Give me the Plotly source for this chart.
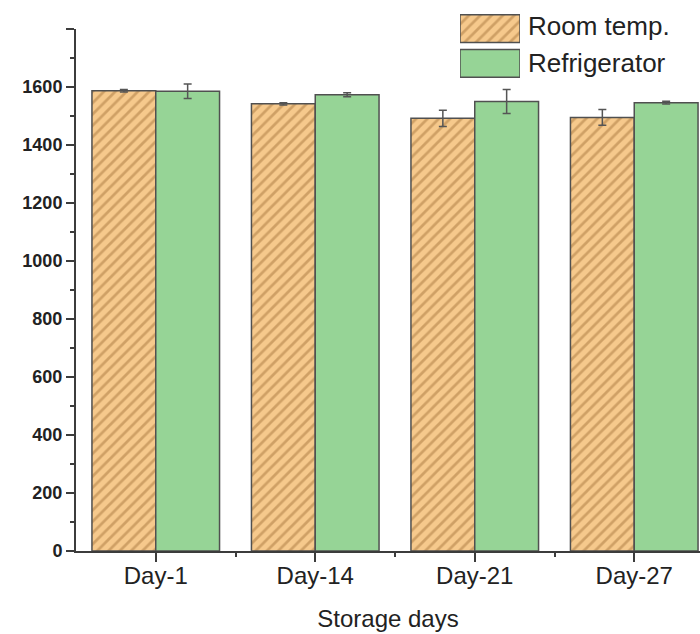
import plotly.graph_objects as go

# Storage-day groups and measured values (mean ± error)
days = ["Day-1", "Day-14", "Day-21", "Day-27"]
room_temp = [1587, 1542, 1492, 1495]
room_temp_err = [4, 4, 28, 27]
refrigerator = [1585, 1573, 1550, 1546]
refrigerator_err = [25, 7, 41, 5]
y_ticks = [0, 200, 400, 600, 800, 1000, 1200, 1400, 1600, 1800]
y_tick_text = ["0", "200", "400", "600", "800", "1000", "1200", "1400", "1600", ""]
series_names = ["Room temp.", "Refrigerator"]

ORANGE = "#F6C98C"
HATCH = "#A8783E"
GREEN = "#96D496"
EDGE = "#505050"
AXIS = "#3C3C3C"
FONT = "Arial, Liberation Sans, sans-serif"

x_pos = list(range(len(days)))

hatch = dict(shape="/", bgcolor=ORANGE, fgcolor=HATCH, size=8, solidity=0.34)

fig = go.Figure()

fig.add_trace(go.Bar(
    x=x_pos, y=room_temp, name=series_names[0],
    marker=dict(color=ORANGE, line=dict(color=EDGE, width=1.5), pattern=hatch),
    error_y=dict(type="data", array=room_temp_err, color="#555555",
                 thickness=1.5, width=4),
    showlegend=False,
))
fig.add_trace(go.Bar(
    x=x_pos, y=refrigerator, name=series_names[1],
    marker=dict(color=GREEN, line=dict(color=EDGE, width=1.5)),
    error_y=dict(type="data", array=refrigerator_err, color="#555555",
                 thickness=1.5, width=4),
    showlegend=False,
))

# Legend swatches drawn as bars on a small auxiliary axis pair
fig.add_trace(go.Bar(
    x=[1], y=[0], orientation="h", width=0.8, xaxis="x2", yaxis="y2",
    marker=dict(color=ORANGE, line=dict(color=EDGE, width=1.5), pattern=hatch),
    showlegend=False, hoverinfo="skip",
))
fig.add_trace(go.Bar(
    x=[1], y=[1], orientation="h", width=0.8, xaxis="x2", yaxis="y2",
    marker=dict(color=GREEN, line=dict(color=EDGE, width=1.5)),
    showlegend=False, hoverinfo="skip",
))

W, H = 700, 634
m_l, m_r, m_t, m_b = 76, 0, 10, 83
plot_h = H - m_t - m_b
plot_w = W - m_l - m_r

def py(pix):
    return (H - m_b - pix) / plot_h

def px(pix):
    return (pix - m_l) / plot_w

for i, label in enumerate(series_names):
    fig.add_annotation(
        x=px(526), y=py(26 + 37 * i), xref="paper", yref="paper",
        text=label, showarrow=False, xanchor="left", yanchor="middle",
        font=dict(family=FONT, size=26, color="#222222"),
    )

fig.update_layout(
    width=W, height=H,
    margin=dict(l=m_l, r=m_r, t=m_t, b=m_b),
    paper_bgcolor="white", plot_bgcolor="white",
    barmode="group", bargap=0.2, bargroupgap=0,
    font=dict(family=FONT, color="#222222"),
    xaxis=dict(
        range=[-0.5, -0.5 + plot_w / 159.5],
        tickvals=x_pos, ticktext=days,
        showline=True, linecolor=AXIS, linewidth=2,
        ticks="outside", ticklen=9, tickwidth=1.5, tickcolor=AXIS,
        ticklabelstandoff=-7,
        minor=dict(tickvals=[0.5, 1.5, 2.5], ticks="outside",
                   ticklen=4, tickwidth=1.5, tickcolor=AXIS),
        tickfont=dict(family=FONT, size=24, color="#222222"),
        title=dict(text="Storage days", standoff=22,
                   font=dict(family=FONT, size=24, color="#222222")),
        showgrid=False, zeroline=False,
    ),
    yaxis=dict(
        range=[0, 1800], domain=[0, py(29)],
        tickvals=y_ticks, ticktext=y_tick_text,
        showline=True, linecolor=AXIS, linewidth=2,
        ticks="outside", ticklen=8, tickwidth=1.5, tickcolor=AXIS,
        minor=dict(dtick=200, tick0=100, ticks="outside",
                   ticklen=4, tickwidth=1.5, tickcolor=AXIS),
        tickfont=dict(family=FONT, size=18, color="#222222", weight="bold"),
        showgrid=False, zeroline=False,
    ),
    xaxis2=dict(domain=[px(460), px(520)], range=[0, 1], anchor="y2",
                visible=False, fixedrange=True),
    yaxis2=dict(domain=[py(79), py(13)], range=[1.45, -0.45], anchor="x2",
                visible=False, fixedrange=True),
)

fig.write_html("out.html")
